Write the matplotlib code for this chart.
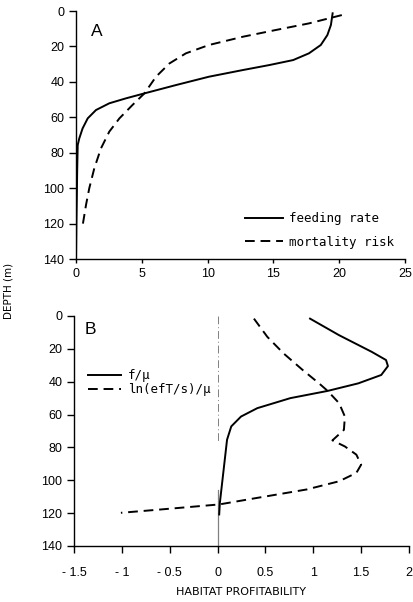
import matplotlib
matplotlib.use("Agg")
import matplotlib.pyplot as plt

plt.rcParams['font.family'] = ['Liberation Sans', 'DejaVu Sans']
plt.rcParams['font.size'] = 9

# panel A: feeding rate and mortality risk vs depth (m)
feed_depth = [1.3, 7.9, 13.6, 19.2, 23.9, 27.7, 30.5, 33.3, 37.1, 41.8, 46.5, 49.3, 52.1,
              55.9, 60.6, 66.3, 71.9, 75.7, 90, 106, 120, 140]
feed_rate = [19.5, 19.37, 19.1, 18.6, 17.7, 16.5, 14.7, 12.7, 10.1, 7.6, 5.2, 3.8, 2.53,
             1.52, 0.89, 0.5, 0.25, 0.13, 0.09, 0.06, 0.03, 0.0]
mort_depth = [2.3, 7, 10.7, 14.5, 19.2, 23.9, 29.6, 37.1, 46.5, 53, 60.6, 68.1, 77.5,
              88.8, 100, 109.5, 120.8]
mort_risk = [20.2, 17.7, 15.2, 12.7, 10.1, 8.35, 7.1, 6.08, 5.2, 4.3, 3.3, 2.53, 1.9,
             1.39, 1.01, 0.76, 0.51]

# panel B: habitat profitability vs depth (m)
fmu_depth = [1.6, 11.7, 21.8, 26.8, 30.5, 35.9, 41, 45.6, 50, 56.1, 61.2, 67.2, 75.3,
             113.7, 120.8]
fmu_value = [0.966, 1.27, 1.61, 1.76, 1.78, 1.71, 1.47, 1.15, 0.76, 0.415, 0.245, 0.143,
             0.099, 0.024, 0.017]
ln_depth = [1.6, 12.7, 22.8, 32.9, 41, 45.6, 53.1, 61.2, 69.3, 75.7, 79.4, 84.4, 90.5,
            95.5, 100.6, 105.6, 110.7, 114.7, 117.8, 119.8]
ln_value = [0.38, 0.52, 0.69, 0.89, 1.06, 1.15, 1.27, 1.33, 1.32, 1.20, 1.33, 1.45, 1.50,
            1.45, 1.27, 0.93, 0.415, 0.017, -0.6, -1.01]

depth_ticks = [0, 20, 40, 60, 80, 100, 120, 140]
a_xticks = [0, 5, 10, 15, 20, 25]
b_xticks = [-1.5, -1, -0.5, 0, 0.5, 1, 1.5, 2]
b_xlabels = ['- 1.5', '- 1', '- 0.5', '0', '0.5', '1', '1.5', '2']

W, H = 414, 602
fig = plt.figure(figsize=(W / 100, H / 100), dpi=100)
axA = fig.add_axes([76 / W, 1 - 259 / H, (405 - 76) / W, (259 - 11) / H])
axB = fig.add_axes([74 / W, 1 - 546 / H, (409 - 74) / W, (546 - 316) / H])

legend_font = {'family': 'DejaVu Sans Mono', 'size': 9}


def style(ax, xtick_len, xpad):
    for s in ['top', 'right']:
        ax.spines[s].set_visible(False)
    for s in ['left', 'bottom']:
        ax.spines[s].set_linewidth(1.0)
    ax.tick_params(axis='y', direction='out', length=5, width=1, pad=3.5)
    ax.tick_params(axis='x', direction='out', length=xtick_len, width=1, pad=xpad)
    ax.set_ylim(140, 0)
    ax.set_yticks(depth_ticks)


style(axA, 3, 3.5)
axA.plot(feed_rate, feed_depth, color='black', lw=1.4, label='feeding rate')
axA.plot(mort_risk, mort_depth, color='black', lw=1.4, ls=(0, (5, 3)), label='mortality risk')
axA.set_xlim(0, 25)
axA.set_xticks(a_xticks)
axA.text(0.044, 0.948, 'A', transform=axA.transAxes, fontsize=12.5, ha='left', va='top')
axA.legend(loc='upper left', bbox_to_anchor=(0.514, 0.19), frameon=False, prop=legend_font,
           handlelength=3.0, handletextpad=0.5, labelspacing=0.85, borderpad=0,
           borderaxespad=0)

style(axB, 5, 10)
axB.plot([0, 0], [0, 76], color='gray', lw=0.7, ls=(0, (8, 3, 1, 3)))
axB.plot([0, 0], [106, 140], color='gray', lw=0.9)
axB.plot(fmu_value, fmu_depth, color='black', lw=1.4, label='f/\u03bc')
axB.plot(ln_value, ln_depth, color='black', lw=1.4, ls=(0, (5, 3)), label='ln(efT/s)/\u03bc')
axB.set_xlim(-1.5, 2)
axB.set_xticks(b_xticks)
axB.set_xticklabels(b_xlabels)
axB.set_xlabel('HABITAT PROFITABILITY', fontsize=8, family='DejaVu Sans', labelpad=6)
axB.text(0.032, 0.975, 'B', transform=axB.transAxes, fontsize=12.5, ha='left', va='top')
axB.legend(loc='upper left', bbox_to_anchor=(0.041, 0.77), frameon=False, prop=legend_font,
           handlelength=2.7, handletextpad=0.5, labelspacing=0.1, borderpad=0,
           borderaxespad=0)

fig.text(9 / W, 1 - 291 / H, 'DEPTH (m)', rotation=90, ha='center', va='center',
         fontsize=7.5, family='DejaVu Sans')

fig.savefig('out.png', dpi=100)
